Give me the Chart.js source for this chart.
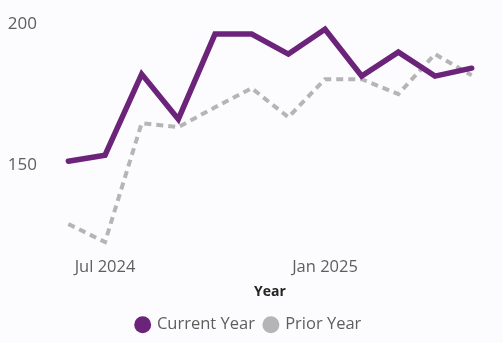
<!DOCTYPE html>
<html>
<head>
<meta charset="utf-8">
<script src="https://cdn.jsdelivr.net/npm/chart.js@4"></script>
<style>
  html, body { margin: 0; padding: 0; background: #fcfcfe; }
  #wrap { width: 503px; height: 343px; position: relative; }
</style>
</head>
<body>
<div id="wrap"><canvas id="yearChart"></canvas></div>
<script>
// Monthly values, current year vs the same months a year earlier
const months = ["Jun 2024", "Jul 2024", "Aug 2024", "Sep 2024", "Oct 2024", "Nov 2024",
                "Dec 2024", "Jan 2025", "Feb 2025", "Mar 2025", "Apr 2025", "May 2025"];
const currentYear = [151.4, 153.5, 182.3, 166.3, 196.5, 196.5, 189.4, 198.2, 181.6, 190.1, 181.6, 184.4];
const priorYear = [129.1, 122.7, 164.9, 163.5, 170.5, 177.3, 167.0, 180.5, 180.5, 175.2, 189.4, 181.9];
const shownMonths = ["Jul 2024", "Jan 2025"];
const yTicks = [150, 200];

const purple = '#6b247a';
const grey = '#b5b5b5';
const textGrey = '#605e5c';

Chart.defaults.font.family = '"Open Sans", "Noto Sans", sans-serif';

const ctx = document.getElementById('yearChart').getContext('2d');
const chart = new Chart(ctx, {
	type: 'line',
	data: {
		labels: months,
		datasets: [{
			label: 'Current Year',
			data: currentYear,
			borderColor: purple,
			backgroundColor: purple,
			borderWidth: 5.5,
			pointRadius: 0,
			tension: 0,
			borderJoinStyle: 'miter',
			borderCapStyle: 'round',
			order: 0
		}, {
			label: 'Prior Year',
			data: priorYear,
			borderColor: grey,
			backgroundColor: grey,
			borderWidth: 4,
			borderDash: [7, 5],
			pointRadius: 0,
			tension: 0,
			order: 1
		}]
	},
	options: {
		responsive: true,
		maintainAspectRatio: false,
		animation: false,
		layout: {
			padding: { left: 8, right: 13, top: 0, bottom: 0 }
		},
		scales: {
			x: {
				offset: true,
				grid: { display: false, drawTicks: false },
				border: { display: false },
				ticks: {
					autoSkip: false,
					maxRotation: 0,
					color: textGrey,
					font: { size: 16.5 },
					padding: 5,
					callback: function (val) {
						const lbl = this.getLabelForValue(val);
						return shownMonths.includes(lbl) ? lbl : '';
					}
				},
				title: {
					display: true,
					text: 'Year',
					color: '#252423',
					font: { size: 14, weight: 'bold' },
					padding: { top: 2, bottom: 6 }
				}
			},
			y: {
				min: 119.2,
				max: 203.2,
				grid: { display: false },
				border: { display: false },
				afterBuildTicks: (axis) => {
					axis.ticks = yTicks.map(v => ({ value: v }));
				},
				afterFit: (axis) => {
					axis.width = 42;
				},
				ticks: {
					color: textGrey,
					font: { size: 17 },
					padding: 5
				}
			}
		},
		plugins: {
			legend: {
				position: 'bottom',
				labels: {
					usePointStyle: true,
					pointStyle: 'circle',
					boxWidth: 12,
					boxHeight: 12,
					padding: 10,
					color: textGrey,
					font: { size: 16.5 },
					// plain filled dots, no outline or dash from the line style
					generateLabels: (c) => Chart.defaults.plugins.legend.labels.generateLabels(c)
						.map(item => Object.assign(item, { lineWidth: 0, lineDash: [] }))
				}
			},
			tooltip: { enabled: false }
		}
	}
});
</script>
</body>
</html>
